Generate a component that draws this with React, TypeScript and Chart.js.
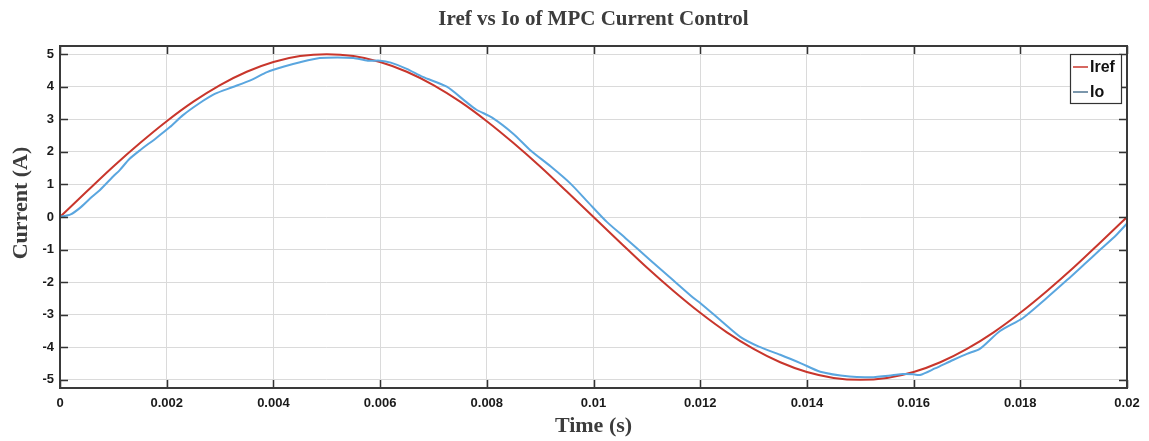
import React, { useEffect, useRef } from "react";
import { Chart, registerables } from "chart.js";

Chart.register(...registerables);

const chartTitle = "Iref vs Io of MPC Current Control";
const xAxisTitle = "Time (s)";
const yAxisTitle = "Current (A)";
const legendLabels = ["Iref", "Io"];

const xTickLabels = ["0", "0.002", "0.004", "0.006", "0.008", "0.01", "0.012", "0.014", "0.016", "0.018", "0.02"];
const yTickLabels = ["-5", "-4", "-3", "-2", "-1", "0", "1", "2", "3", "4", "5"];

const irefTime = [
  0, 0.0005, 0.001, 0.0015, 0.002, 0.0025, 0.003, 0.0035, 0.004, 0.0045, 0.005,
  0.0055, 0.006, 0.0065, 0.007, 0.0075, 0.008, 0.0085, 0.009, 0.0095, 0.01,
  0.0105, 0.011, 0.0115, 0.012, 0.0125, 0.013, 0.0135, 0.014, 0.0145, 0.015,
  0.0155, 0.016, 0.0165, 0.017, 0.0175, 0.018, 0.0185, 0.019, 0.0195, 0.02,
];
const irefValues = [
  0, 0.78, 1.55, 2.27, 2.94, 3.54, 4.05, 4.46, 4.76, 4.94, 5.0,
  4.94, 4.76, 4.46, 4.05, 3.54, 2.94, 2.27, 1.55, 0.78, 0,
  -0.78, -1.55, -2.27, -2.94, -3.54, -4.05, -4.46, -4.76, -4.94, -5.0,
  -4.94, -4.76, -4.46, -4.05, -3.54, -2.94, -2.27, -1.55, -0.78, 0,
];

const ioTime = [
  0, 0.0002, 0.000375, 0.0006, 0.00075, 0.001, 0.00112, 0.0013, 0.0015, 0.0018,
  0.00206, 0.0023, 0.00262, 0.0029, 0.00324, 0.0036, 0.00388, 0.0042, 0.0045, 0.00487,
  0.0052, 0.0055, 0.00577, 0.006, 0.0062, 0.0065, 0.0068, 0.00725, 0.0076, 0.0078,
  0.0081, 0.0085, 0.00881, 0.0092, 0.00956, 0.0099, 0.01025, 0.0106, 0.01106, 0.0115,
  0.01187, 0.012, 0.0124, 0.01275, 0.0131, 0.0135, 0.0139, 0.01425, 0.0148, 0.0152,
  0.0156, 0.0158, 0.016, 0.01612, 0.0164, 0.01674, 0.017, 0.01724, 0.01762, 0.01805,
  0.0185, 0.01888, 0.0192, 0.0195, 0.0198, 0.02,
];
const ioValues = [
  0, 0.08, 0.28, 0.62, 0.83, 1.25, 1.44, 1.78, 2.05, 2.42,
  2.76, 3.12, 3.5, 3.78, 3.99, 4.22, 4.45, 4.62, 4.75, 4.88,
  4.9, 4.88, 4.8, 4.8, 4.74, 4.55, 4.3, 4.0, 3.55, 3.3,
  3.05, 2.55, 2.06, 1.55, 1.04, 0.45, -0.15, -0.65, -1.32, -1.95,
  -2.48, -2.64, -3.2, -3.68, -3.98, -4.23, -4.5, -4.75, -4.9, -4.92,
  -4.86, -4.82, -4.83, -4.85, -4.65, -4.39, -4.2, -4.05, -3.5, -3.1,
  -2.48, -1.93, -1.45, -1.0, -0.55, -0.2,
];

const irefColor = "#c8362c";
const ioColor = "#5aa6df";

export default function App() {
  const canvasRef = useRef<HTMLCanvasElement | null>(null);

  useEffect(() => {
    document.body.style.margin = "0";
    const canvas = canvasRef.current;
    if (!canvas) return;

    const framePlugin = {
      id: "framePlugin",
      afterDraw(chart: any) {
        const { ctx, chartArea } = chart;
        const { left, right, top, bottom } = chartArea;
        const xs = chart.scales.x;
        const ys = chart.scales.y;
        ctx.save();
        // inner tick marks
        ctx.strokeStyle = "#333333";
        ctx.lineWidth = 1.5;
        const tl = 8;
        ctx.beginPath();
        xs.ticks.forEach((t: any) => {
          const px = Math.round(xs.getPixelForValue(t.value)) + 0.5;
          ctx.moveTo(px, bottom);
          ctx.lineTo(px, bottom - tl);
          ctx.moveTo(px, top);
          ctx.lineTo(px, top + tl);
        });
        ys.ticks.forEach((t: any) => {
          const py = Math.round(ys.getPixelForValue(t.value)) + 0.5;
          ctx.moveTo(left, py);
          ctx.lineTo(left + tl, py);
          ctx.moveTo(right, py);
          ctx.lineTo(right - tl, py);
        });
        ctx.stroke();
        // frame
        ctx.strokeStyle = "#3a3a3a";
        ctx.lineWidth = 2;
        ctx.strokeRect(left, top, right - left, bottom - top);

        // legend
        const bw = 51;
        const bh = 49;
        const bx = right - 6 - bw;
        const by = top + 8;
        ctx.fillStyle = "#ffffff";
        ctx.fillRect(bx, by, bw, bh);
        ctx.strokeStyle = "#333333";
        ctx.lineWidth = 1.2;
        ctx.strokeRect(bx + 0.5, by + 0.5, bw, bh);
        const colors = [irefColor, "#4f7591"];
        legendLabels.forEach((lab, i) => {
          const cy = by + 13 + i * 25;
          ctx.strokeStyle = colors[i];
          ctx.lineWidth = 1.5;
          ctx.beginPath();
          ctx.moveTo(bx + 3, cy);
          ctx.lineTo(bx + 18, cy);
          ctx.stroke();
          ctx.fillStyle = "#111111";
          ctx.font = "bold 16px 'Liberation Sans', Arial, sans-serif";
          ctx.textAlign = "left";
          ctx.textBaseline = "middle";
          ctx.fillText(lab, bx + 20, cy + 1);
        });

        // titles
        ctx.fillStyle = "#3c3c3c";
        ctx.textAlign = "center";
        ctx.textBaseline = "middle";
        ctx.font = "bold 21px 'Liberation Serif', 'Times New Roman', serif";
        ctx.fillText(chartTitle, (left + right) / 2, 20);
        ctx.font = "bold 22px 'Liberation Serif', 'Times New Roman', serif";
        ctx.fillText(xAxisTitle, (left + right) / 2, 426);
        ctx.save();
        ctx.translate(21, 203);
        ctx.rotate(-Math.PI / 2);
        ctx.fillText(yAxisTitle, 0, 0);
        ctx.restore();
        ctx.restore();
      },
    };

    const chart = new Chart(canvas, {
      type: "line",
      data: {
        datasets: [
          {
            label: legendLabels[1],
            data: ioTime.map((t, i) => ({ x: t, y: ioValues[i] })),
            borderColor: ioColor,
            borderWidth: 2,
            pointRadius: 0,
            tension: 0.25,
            fill: false,
            order: 0,
          },
          {
            label: legendLabels[0],
            data: irefTime.map((t, i) => ({ x: t, y: irefValues[i] })),
            borderColor: irefColor,
            borderWidth: 2,
            pointRadius: 0,
            cubicInterpolationMode: "monotone",
            fill: false,
            order: 1,
          },
        ],
      },
      options: {
        responsive: false,
        animation: false,
        layout: { padding: { left: 0, top: 46, right: 22, bottom: 0 } },
        plugins: {
          legend: { display: false },
          title: { display: false },
          tooltip: { enabled: false },
        },
        scales: {
          x: {
            type: "linear",
            min: 0,
            max: 0.02,
            afterFit: (s: any) => {
              s.height = 53;
            },
            afterBuildTicks: (s: any) => {
              s.ticks = xTickLabels.map((l) => ({ value: parseFloat(l) }));
            },
            ticks: {
              autoSkip: false,
              maxRotation: 0,
              padding: 8,
              color: "#1a1a1a",
              font: { family: "'Liberation Sans', Arial, sans-serif", size: 13, weight: "bold" },
              callback: (_v: any, i: number) => xTickLabels[i],
            },
            grid: { color: "#dadada", lineWidth: 1, drawTicks: false },
            border: { display: false },
          },
          y: {
            type: "linear",
            min: -5.25,
            max: 5.25,
            afterFit: (s: any) => {
              s.width = 60;
            },
            afterBuildTicks: (s: any) => {
              s.ticks = yTickLabels.map((l) => ({ value: parseFloat(l) }));
            },
            ticks: {
              padding: 6,
              color: "#1a1a1a",
              font: { family: "'Liberation Sans', Arial, sans-serif", size: 13, weight: "bold" },
              callback: (_v: any, i: number) => yTickLabels[i],
            },
            grid: { color: "#dadada", lineWidth: 1, drawTicks: false },
            border: { display: false },
          },
        },
      },
      plugins: [framePlugin],
    });

    return () => chart.destroy();
  }, []);

  return (
    <div style={{ position: "absolute", left: 0, top: 0, width: 1149, height: 441, background: "#fff" }}>
      <canvas ref={canvasRef} width={1149} height={441} />
    </div>
  );
}
